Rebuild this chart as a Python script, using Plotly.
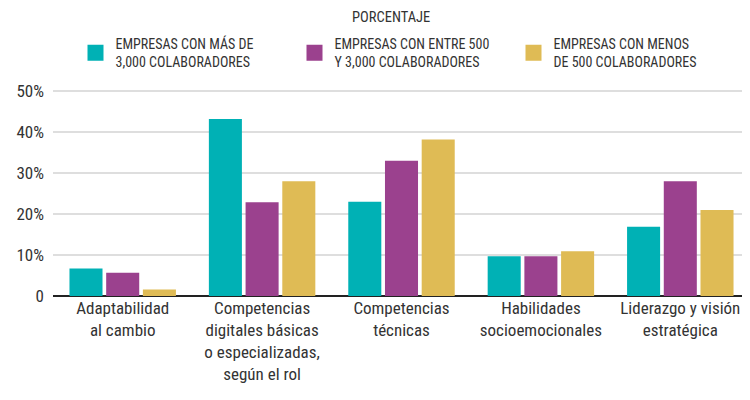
import plotly.graph_objects as go

categories = [
    "Adaptabilidad<br>al cambio",
    "Competencias<br>digitales básicas<br>o especializadas,<br>según el rol",
    "Competencias<br>técnicas",
    "Habilidades<br>socioemocionales",
    "Liderazgo y visión<br>estratégica",
]
series_names = [
    "EMPRESAS CON MÁS DE<br>3,000 COLABORADORES",
    "EMPRESAS CON ENTRE 500<br>Y 3,000 COLABORADORES",
    "EMPRESAS CON MENOS<br>DE 500 COLABORADORES",
]
mas_3000 = [6.7, 43.2, 23, 9.7, 16.9]
entre_500_3000 = [5.7, 22.9, 33, 9.7, 28]
menos_500 = [1.6, 28, 38.2, 10.9, 21]
colors = ["#00B1B5", "#9B418E", "#DFBB55"]
y_ticks = [0, 10, 20, 30, 40, 50]
y_ticktext = ["0", "10%", "20%", "30%", "40%", "50%"]

FONT = "Roboto Condensed, Roboto, sans-serif"

fig = go.Figure()
for i, (name, vals, col) in enumerate(zip(series_names, [mas_3000, entre_500_3000, menos_500], colors)):
    fig.add_trace(go.Bar(x=categories, y=vals, name=name, marker_color=col,
                         marker_line_width=0, legendgroup=str(i),
                         showlegend=False))
    # bigger square swatch for the legend
    fig.add_trace(go.Scatter(x=[None], y=[None], mode="markers", name=name,
                             legendgroup=str(i),
                             marker=dict(symbol="square", size=16, color=col)))

# page body has an 8px margin, so shift margins to compensate
fig.update_layout(
    width=750, height=400,
    margin=dict(l=45, r=8, t=81, b=112, autoexpand=False),
    paper_bgcolor="white", plot_bgcolor="white",
    barmode="group", bargap=0.21, bargroupgap=0.1,
    font=dict(family=FONT, color="#333333", size=17),
    showlegend=True,
    legend=dict(
        orientation="h", x=0.528, xanchor="center", xref="container",
        y=0.95, yanchor="top", yref="container",
        font=dict(size=14, color="#333333"),
        traceorder="normal", entrywidth=174,
    ),
)
fig.add_annotation(text="PORCENTAJE", xref="paper", yref="paper",
                   x=(383 - 45) / 697, y=1 + 81 / 207, xanchor="center",
                   yanchor="top", showarrow=False, borderpad=0,
                   font=dict(size=14.5, color="#333333"))
fig.update_xaxes(showgrid=False, ticks="", tickfont=dict(size=17),
                 showline=False)
fig.update_yaxes(range=[0, 50.5], tickvals=y_ticks, ticktext=y_ticktext,
                 showgrid=True, gridcolor="#dedede", gridwidth=1.5,
                 zeroline=True, zerolinecolor="#222222", zerolinewidth=2,
                 tickfont=dict(size=17), ticks="", ticklabelstandoff=8)

fig.write_html("out.html")
